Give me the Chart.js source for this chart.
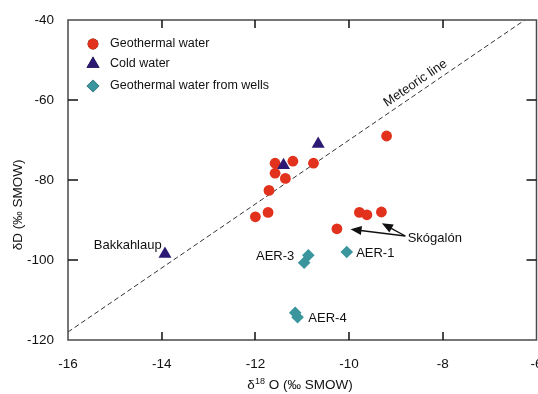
<!DOCTYPE html>
<html>
<head>
<meta charset="utf-8">
<script src="https://cdn.jsdelivr.net/npm/chart.js@4.4.1/dist/chart.umd.min.js"></script>
<style>
  html, body { margin: 0; padding: 0; background: #fff; overflow: hidden; }
  #wrap { width: 544px; height: 394px; }
</style>
</head>
<body>
<div id="wrap"><canvas id="isoChart" width="544" height="394"></canvas></div>
<script>
// --- data (d18O, dD in permil SMOW) ---
const geoX = [-9.2, -11.2, -11.58, -10.76, -11.58, -11.36, -11.71, -11.73, -12.0, -10.26, -9.78, -9.62, -9.31];
const geoY = [-69.0, -75.3, -75.8, -75.8, -78.3, -79.6, -82.6, -88.1, -89.2, -92.2, -88.1, -88.7, -88.0];

const coldX = [-10.66, -11.4, -13.93];
const coldY = [-71.0, -76.3, -98.5];

const wellX = [-10.87, -10.96, -10.05, -11.15, -11.1];
const wellY = [-98.8, -100.7, -98.0, -113.2, -114.3];

// global meteoric water line dD = 8*d18O + 10
const meteoricX = [-16, -6.25];
const meteoricY = [-118, -40];

const xTicks = [-16, -14, -12, -10, -8, -6];
const yTicks = [-120, -100, -80, -60, -40];

const seriesNames = ['Geothermal water', 'Cold water', 'Geothermal water from wells'];

const RED = '#e2311d';
const NAVY = '#2b1973';
const TEAL = '#3a959c';
const FONT = '"Liberation Sans", Arial, sans-serif';

function pts(xs, ys) {
    return xs.map((x, i) => ({ x: x, y: ys[i] }));
}

// text labels placed in data coordinates
const notes = [
    { text: 'Bakkahlaup', x: -14.0, y: -96.4, align: 'right' },
    { text: 'AER-3', x: -11.17, y: -99.2, align: 'right' },
    { text: 'AER-1', x: -9.85, y: -98.3, align: 'left' },
    { text: 'AER-4', x: -10.87, y: -114.5, align: 'left' },
    { text: 'Skógalón', x: -8.75, y: -94.6, align: 'left' }
];
// arrows from the Skógalón label
const arrows = [
    { fromX: -8.8, fromY: -94.0, toX: -9.97, toY: -92.3 },
    { fromX: -8.8, fromY: -94.0, toX: -9.3, toY: -90.8 }
];

const overlay = {
    id: 'overlay',
    afterDraw(chart) {
        const ctx = chart.ctx;
        const xs = chart.scales.x;
        const ys = chart.scales.y;
        const a = chart.chartArea;

        ctx.save();
        // frame
        ctx.strokeStyle = '#4a4a4a';
        ctx.lineWidth = 1.5;
        ctx.strokeRect(a.left, a.top, a.right - a.left, a.bottom - a.top);

        // inward ticks on all four sides
        ctx.strokeStyle = '#111';
        ctx.lineWidth = 1.5;
        ctx.beginPath();
        xTicks.slice(1, -1).forEach(v => {
            const px = Math.round(xs.getPixelForValue(v));
            ctx.moveTo(px, a.bottom); ctx.lineTo(px, a.bottom - 8);
            ctx.moveTo(px, a.top); ctx.lineTo(px, a.top + 8);
        });
        yTicks.slice(1, -1).forEach(v => {
            const py = Math.round(ys.getPixelForValue(v));
            ctx.moveTo(a.left, py); ctx.lineTo(a.left + 10, py);
            ctx.moveTo(a.right, py); ctx.lineTo(a.right - 10, py);
        });
        ctx.stroke();

        // meteoric line label
        const mx = -8.47, my = 8 * mx + 10;
        const ang = Math.atan2(ys.getPixelForValue(-40) - ys.getPixelForValue(-48), xs.getPixelForValue(-6) - xs.getPixelForValue(-7));
        ctx.save();
        ctx.translate(xs.getPixelForValue(mx), ys.getPixelForValue(my));
        ctx.rotate(ang);
        ctx.font = '13px ' + FONT;
        ctx.fillStyle = '#111';
        ctx.textAlign = 'center';
        ctx.textBaseline = 'bottom';
        ctx.fillText('Meteoric line', 0, -3);
        ctx.restore();

        // point labels
        ctx.font = '13px ' + FONT;
        ctx.fillStyle = '#111';
        ctx.textBaseline = 'middle';
        notes.forEach(n => {
            ctx.textAlign = n.align;
            ctx.fillText(n.text, xs.getPixelForValue(n.x), ys.getPixelForValue(n.y));
        });

        // arrows
        ctx.strokeStyle = '#111';
        ctx.fillStyle = '#111';
        ctx.lineWidth = 1.4;
        arrows.forEach(ar => {
            const x0 = xs.getPixelForValue(ar.fromX), y0 = ys.getPixelForValue(ar.fromY);
            const x1 = xs.getPixelForValue(ar.toX), y1 = ys.getPixelForValue(ar.toY);
            const t = Math.atan2(y1 - y0, x1 - x0);
            ctx.beginPath();
            ctx.moveTo(x0, y0);
            ctx.lineTo(x1 - 8 * Math.cos(t), y1 - 8 * Math.sin(t));
            ctx.stroke();
            ctx.beginPath();
            ctx.moveTo(x1, y1);
            ctx.lineTo(x1 - 11 * Math.cos(t) + 4.5 * Math.sin(t), y1 - 11 * Math.sin(t) - 4.5 * Math.cos(t));
            ctx.lineTo(x1 - 11 * Math.cos(t) - 4.5 * Math.sin(t), y1 - 11 * Math.sin(t) + 4.5 * Math.cos(t));
            ctx.closePath();
            ctx.fill();
        });

        // legend
        const lx = a.left + 25;
        const ly = [44, 64, 86];
        ctx.font = '12.5px ' + FONT;
        ctx.textAlign = 'left';
        ctx.textBaseline = 'middle';
        chart.data.datasets.slice(0, 3).forEach((ds, i) => {
            Chart.helpers.drawPoint(ctx, {
                pointStyle: ds.pointStyle,
                radius: ds.pointRadius,
                rotation: 0,
                borderWidth: 0
            }, lx, ly[i]);
            ctx.fillStyle = ds.backgroundColor;
            ctx.fill();
            ctx.fillStyle = '#111';
            ctx.fillText(seriesNames[i], lx + 17, ly[i]);
        });

        // axis titles
        ctx.fillStyle = '#111';
        ctx.textBaseline = 'alphabetic';
        ctx.textAlign = 'left';
        const xtA = 'δ', xtB = '18', xtC = ' O (‰ SMOW)';
        ctx.font = '13.5px ' + FONT;
        const wA = ctx.measureText(xtA).width, wC = ctx.measureText(xtC).width;
        ctx.font = '9px ' + FONT;
        const wB = ctx.measureText(xtB).width;
        let sx = 300 - (wA + wB + wC) / 2;
        const by = 389;
        ctx.font = '13.5px ' + FONT;
        ctx.fillText(xtA, sx, by); sx += wA;
        ctx.font = '9px ' + FONT;
        ctx.fillText(xtB, sx, by - 5); sx += wB;
        ctx.font = '13.5px ' + FONT;
        ctx.fillText(xtC, sx, by);

        ctx.save();
        ctx.translate(22, 205);
        ctx.rotate(-Math.PI / 2);
        ctx.textAlign = 'center';
        ctx.fillText('δD (‰ SMOW)', 0, 0);
        ctx.restore();

        ctx.restore();
    }
};

new Chart(document.getElementById('isoChart'), {
    type: 'scatter',
    data: {
        datasets: [
            {
                label: seriesNames[0],
                data: pts(geoX, geoY),
                pointStyle: 'circle',
                pointRadius: 5.4,
                backgroundColor: RED,
                borderWidth: 0,
                order: 1
            },
            {
                label: seriesNames[1],
                data: pts(coldX, coldY),
                pointStyle: 'triangle',
                pointRadius: 7.5,
                backgroundColor: NAVY,
                borderWidth: 0,
                order: 0
            },
            {
                label: seriesNames[2],
                data: pts(wellX, wellY),
                pointStyle: 'rectRot',
                pointRadius: 6.3,
                backgroundColor: TEAL,
                borderWidth: 0,
                order: 2
            },
            {
                label: 'Meteoric line',
                type: 'line',
                data: pts(meteoricX, meteoricY),
                borderColor: '#333',
                borderWidth: 1,
                borderDash: [5, 3],
                pointRadius: 0,
                fill: false,
                order: 3
            }
        ]
    },
    options: {
        responsive: false,
        animation: false,
        devicePixelRatio: 1,
        layout: { padding: { top: 20, right: 0, left: 0, bottom: 0 } },
        plugins: {
            legend: { display: false },
            tooltip: { enabled: false }
        },
        scales: {
            x: {
                type: 'linear',
                min: -16,
                max: -6,
                afterBuildTicks: s => { s.ticks = xTicks.map(v => ({ value: v })); },
                afterFit: s => { s.height = 54; s.paddingLeft = 0; s.paddingRight = 0; },
                grid: { display: false },
                border: { display: false },
                ticks: { color: '#111', font: { family: FONT, size: 13.5 }, padding: 8 }
            },
            y: {
                type: 'linear',
                min: -120,
                max: -40,
                afterBuildTicks: s => { s.ticks = yTicks.map(v => ({ value: v })); },
                afterFit: s => { s.width = 68; s.paddingTop = 0; s.paddingBottom = 0; },
                grid: { display: false },
                border: { display: false },
                ticks: { color: '#111', font: { family: FONT, size: 13.5 }, padding: 6 }
            }
        }
    },
    plugins: [overlay]
});
</script>
</body>
</html>
